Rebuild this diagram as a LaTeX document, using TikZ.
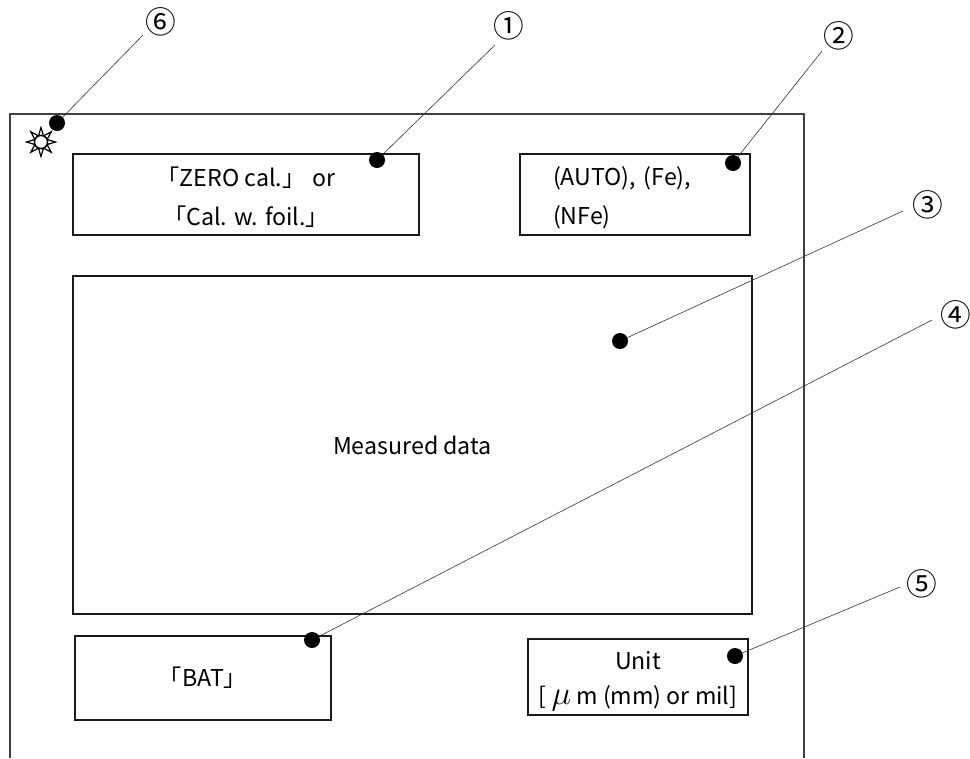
\documentclass[tikz,border=0pt]{standalone}
\usepackage{fontspec}
\setmainfont{Noto Sans CJK JP}
\tikzset{
	panel/.style={draw, line width=0.8pt, black!90, text=black, inner sep=0pt, font=\fontsize{17.4}{29}\selectfont, align=center},
	marker/.style={circle, fill=black, inner sep=0pt, minimum size=12pt},
	callout/.style={font=\fontsize{23}{26}\selectfont, inner sep=0pt},
	leader/.style={line width=0.45pt, black!80}
}
\begin{document}
\begin{tikzpicture}[x=0.75pt, y=-0.75pt, line join=miter]
	\useasboundingbox (0, 0) rectangle (970, 758);
	% Khung ngoai
	\draw[line width=0.95pt, black!75] (10, 758) -- (10, 114) -- (804, 114) -- (804, 758);
	% Cac o
	\node[panel, minimum width=259.5pt, minimum height=60.75pt] (zero) at (246, 194.5) {\rule{0pt}{19pt}「ZERO cal.」 or\\「Cal. w. foil.」};
	\node[panel, minimum width=172.5pt, minimum height=60.75pt, text width=123pt, align=left] (mode) at (635, 194.5) {\rule{0pt}{19pt}(AUTO), (Fe),\\(NFe)};
	\node[panel, minimum width=509.25pt, minimum height=253.5pt] (data) at (412.5, 445) {Measured data};
	\node[panel, minimum width=192pt, minimum height=63pt] (bat) at (203, 678) {「BAT」};
	\node[panel, minimum width=165pt, minimum height=57pt, font=\fontsize{17.4}{26}\selectfont] (unit) at (638, 677) {\rule{0pt}{20pt}Unit\\{[} {\fontsize{23}{26}\selectfont$\mu$} m (mm) or mil]};
	% Den
	\coordinate (sun) at (41, 142);
	\foreach \a in {0, 45, ..., 315} {
		\draw[line width=0.9pt, fill=white] ([shift={(\a-20:7)}]sun) -- ([shift={(\a:14.5)}]sun) -- ([shift={(\a+20:7)}]sun) -- cycle;
	}
	\draw[line width=1pt, fill=white] (sun) circle (6.5);
	% Cham den
	\node[marker] (dotsix) at (57, 123) {};
	\node[marker] (dotone) at (377, 160) {};
	\node[marker] (dottwo) at (733, 163) {};
	\node[marker] (dotthree) at (620, 341) {};
	\node[marker] (dotfour) at (312, 640) {};
	\node[marker] (dotfive) at (735, 656) {};
	% So
	\node[callout] (numsix) at (161, 22) {⑥};
	\node[callout] (numone) at (509, 26) {①};
	\node[callout] (numtwo) at (839, 36) {②};
	\node[callout] (numthree) at (928, 205) {③};
	\node[callout] (numfour) at (956, 315) {④};
	\node[callout] (numfive) at (922, 584) {⑤};
	% Duong dan
	\coordinate (endsix) at (143, 35);
	\coordinate (endone) at (495, 45);
	\coordinate (endtwo) at (822, 51);
	\coordinate (endthree) at (903, 211);
	\coordinate (endfour) at (932, 320);
	\coordinate (endfive) at (900, 587);
	\draw[leader] (dotsix) -- (endsix);
	\draw[leader] (dotone) -- (endone);
	\draw[leader] (dottwo) -- (endtwo);
	\draw[leader] (dotthree) -- (endthree);
	\draw[leader] (dotfour) -- (endfour);
	\draw[leader] (dotfive) -- (endfive);
\end{tikzpicture}
\end{document}
